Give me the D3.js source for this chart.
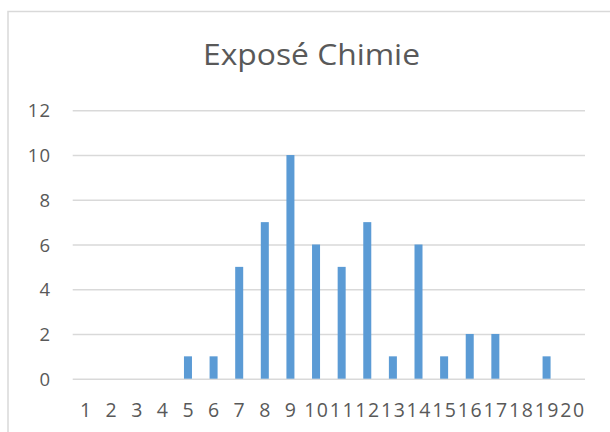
<!DOCTYPE html>
<html>
<head>
<meta charset="utf-8">
<script src="https://cdn.jsdelivr.net/npm/d3@7"></script>
<style>
  html, body { margin: 0; padding: 0; background: #fff; }
  svg { display: block; }
</style>
</head>
<body>
<svg id="chart" width="610" height="432"></svg>
<script>
// Histogram of marks for the chemistry presentation
const title = "Exposé Chimie";
const categories = ["1","2","3","4","5","6","7","8","9","10","11","12","13","14","15","16","17","18","19","20"];
const counts = [0,0,0,0,1,1,5,7,10,6,5,7,1,6,1,2,2,0,1,0];
const yTicks = [0,2,4,6,8,10,12];

const W = 610, H = 432;
const plot = { left: 72.7, right: 585, top: 110.3, bottom: 378.7 };
const textColor = "#595959";
const gridColor = "#d9d9d9";
const barColor = "#5b9bd5";
const font = "'Open Sans', 'Noto Sans', sans-serif";

const svg = d3.select("#chart");

// Chart area frame (continues past the right and bottom edges)
svg.append("rect")
  .attr("x", 8).attr("y", 11.5)
  .attr("width", W + 20).attr("height", H + 20)
  .attr("fill", "#fff")
  .attr("stroke", gridColor)
  .attr("stroke-width", 1.5);

const x = d3.scaleBand()
  .domain(categories)
  .range([plot.left, plot.right])
  .paddingInner(0.6875)
  .paddingOuter(0.34375);

const y = d3.scaleLinear()
  .domain([0, 12])
  .range([plot.bottom, plot.top]);

// Title
svg.append("text")
  .attr("x", 311.5).attr("y", 64.5)
  .attr("text-anchor", "middle")
  .attr("font-family", font)
  .attr("font-size", 29)
  .attr("fill", textColor)
  .attr("textLength", 217)
  .attr("lengthAdjust", "spacingAndGlyphs")
  .text(title);

// Value axis with horizontal gridlines
const yAxis = svg.append("g")
  .attr("transform", `translate(${plot.left},0)`)
  .call(d3.axisLeft(y)
    .tickValues(yTicks)
    .tickSize(-(plot.right - plot.left))
    .tickPadding(21.7)
    .tickFormat(d3.format("d")));
yAxis.select(".domain").remove();
yAxis.selectAll(".tick line")
  .attr("stroke", gridColor)
  .attr("stroke-width", 1.5);
yAxis.selectAll(".tick text")
  .attr("font-family", font)
  .attr("font-size", 18.5)
  .attr("fill", textColor)
  .attr("dy", "0.36em")
  .style("letter-spacing", "1px");

// Bars
svg.append("g")
  .selectAll("rect")
  .data(counts)
  .join("rect")
  .attr("x", (d, i) => x(categories[i]))
  .attr("y", d => y(d))
  .attr("width", x.bandwidth())
  .attr("height", d => y(0) - y(d))
  .attr("fill", barColor);

// Category axis labels
const xAxis = svg.append("g")
  .attr("transform", `translate(0,${plot.bottom})`)
  .call(d3.axisBottom(x).tickSize(0).tickPadding(0));
xAxis.select(".domain").remove();
xAxis.selectAll(".tick text")
  .attr("y", 38.6)
  .attr("dy", 0)
  .attr("dx", 0.75)
  .attr("font-family", font)
  .attr("font-size", 19.5)
  .attr("fill", textColor)
  .style("letter-spacing", "1.5px");
</script>
</body>
</html>
